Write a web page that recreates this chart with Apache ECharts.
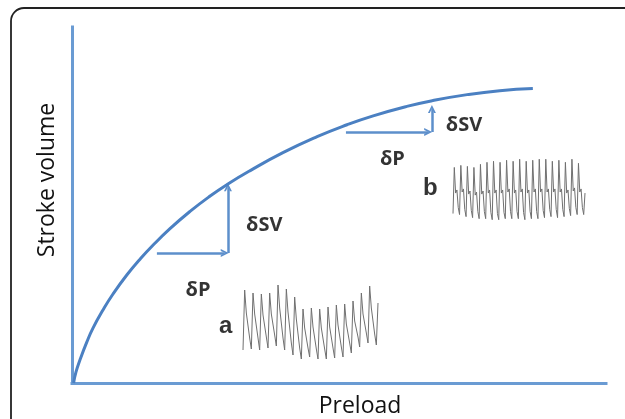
<!DOCTYPE html>
<html>
<head>
<meta charset="utf-8">
<script src="https://cdn.jsdelivr.net/npm/echarts@6/dist/echarts.min.js"></script>
<style>html,body{margin:0;padding:0;background:#fff}#c{width:625px;height:419px}</style>
</head>
<body>
<div id="c"></div>
<script>
// Frank-Starling curve (arbitrary units 0..100)
const preload      = [0.3, 0.75, 1.5, 2.75, 3.93, 5.8, 7.68, 10.3, 12.7, 15.2, 18.35, 22.1, 25.8, 29.2, 33.3, 39.5, 45.9, 51.5, 56.4, 62.7, 67.6, 74.0, 80.1, 86.3];
const strokeVolume = [0,   3.1,  6.5, 11.4, 15.4, 20.5, 25.0, 30.4, 34.7, 38.75, 43.35, 48.2, 52.45, 55.9, 59.6, 64.7, 69.2, 72.55, 75.05, 77.7, 79.35, 81.0, 82.1, 82.7];

// delta arrows (start -> end)
const arrowX0 = [15.9, 29.2, 51.3, 67.4];
const arrowY0 = [36.5, 36.5, 70.5, 70.5];
const arrowX1 = [28.6, 29.2, 66.7, 67.4];
const arrowY1 = [36.5, 55.0, 70.5, 77.0];

// annotation labels
const labelTexts = ['δSV', 'δP', 'δSV', 'δP', 'a', 'b'];
const labelX = [36.0, 23.6, 73.4, 60.0, 28.8, 67.1];
const labelY = [44.4, 26.1, 72.3, 62.8, 16.0, 54.6];

// arterial pressure trace a (large respiratory variation)
const traceA = [
  15, 75, 52, 53, 27,
  16, 72, 51, 52, 27,
  15, 71, 50, 51, 28,
  17, 72, 51, 52, 30,
  19, 80, 57, 58, 27,
  15, 76, 53, 54, 22,
  10, 68, 46, 47, 17,
  6, 56, 37, 38, 17,
  8, 57, 38, 39, 16,
  6, 56, 37, 38, 16,
  6, 58, 38, 39, 17,
  7, 60, 40, 41, 18,
  8, 61, 41, 42, 22,
  12, 64, 44, 45, 28,
  18, 72, 51, 52, 32,
  22, 79, 57, 58, 31,
  20, 62
];

// arterial pressure trace b (small respiratory variation)
const traceB = [
  18, 63, 38, 41, 24,
  17, 65, 39, 42, 22,
  15, 64, 37, 40, 21,
  14, 63, 36, 39, 20,
  13, 66, 37, 40, 20,
  13, 68, 38, 41, 19,
  12, 69, 38, 41, 18,
  12, 68, 38, 41, 19,
  13, 70, 39, 42, 20,
  13, 69, 38, 41, 20,
  13, 71, 39, 42, 19,
  12, 69, 38, 41, 20,
  13, 70, 39, 42, 20,
  13, 71, 39, 42, 21,
  14, 71, 39, 42, 22,
  15, 69, 39, 42, 22,
  14, 70, 39, 42, 22,
  15, 68, 38, 41, 23,
  16, 71, 40, 43, 24,
  17, 67, 39, 42, 24,
  17, 38
];

const curveColor = '#4b80c2';
const axisColor = '#6a9bd3';
const arrowColor = '#5d8fcb';
const chevron = 'path://M0,10 L5,0 L10,10 L7.6,10 L5,4.6 L2.4,10 Z';

const chart = echarts.init(document.getElementById('c'), null, {renderer: 'canvas'});

const hiddenAxis = {axisLine: {show: false}, axisTick: {show: false}, axisLabel: {show: false}, splitLine: {show: false}};
const mainAxisLine = {show: true, onZero: false, lineStyle: {color: axisColor, width: 3, cap: 'square'}};

const option = {
  animation: false,
  backgroundColor: '#ffffff',
  grid: [
    {left: 72, right: 19, top: 27, bottom: 36},
    {left: 243, right: 247, top: 280, bottom: 54},
    {left: 453, right: 40, top: 150, bottom: 187}
  ],
  xAxis: [
    Object.assign({gridIndex: 0, type: 'value', min: 0, max: 100}, hiddenAxis, {axisLine: mainAxisLine}),
    Object.assign({gridIndex: 1, type: 'category', boundaryGap: false, data: traceA.map((_, i) => i)}, hiddenAxis),
    Object.assign({gridIndex: 2, type: 'category', boundaryGap: false, data: traceB.map((_, i) => i)}, hiddenAxis)
  ],
  yAxis: [
    Object.assign({gridIndex: 0, type: 'value', min: 0, max: 100}, hiddenAxis, {axisLine: mainAxisLine}),
    Object.assign({gridIndex: 1, type: 'value', min: 0, max: 85}, hiddenAxis),
    Object.assign({gridIndex: 2, type: 'value', min: 0, max: 80}, hiddenAxis)
  ],
  series: [
    {
      type: 'line', xAxisIndex: 0, yAxisIndex: 0,
      data: preload.map((x, i) => [x, strokeVolume[i]]),
      showSymbol: false, smooth: 0.5,
      lineStyle: {color: curveColor, width: 3}
    },
    {
      type: 'lines', coordinateSystem: 'cartesian2d', xAxisIndex: 0, yAxisIndex: 0,
      symbol: ['none', chevron], symbolSize: [13, 8],
      lineStyle: {color: arrowColor, width: 2.5, opacity: 1, curveness: 0},
      data: arrowX0.map((x, i) => ({coords: [[x, arrowY0[i]], [arrowX1[i], arrowY1[i]]]}))
    },
    {
      type: 'scatter', xAxisIndex: 0, yAxisIndex: 0,
      symbolSize: 1, itemStyle: {color: 'rgba(0,0,0,0)'},
      data: labelTexts.map((t, i) => ({
        value: [labelX[i], labelY[i]],
        label: {
          show: true, position: 'inside', formatter: t, color: '#000',
          fontFamily: t.length > 1 ? 'Open Sans' : 'Liberation Sans',
          fontWeight: 'bold',
          fontSize: t.length > 1 ? 20 : 24
        }
      }))
    },
    {
      type: 'line', xAxisIndex: 1, yAxisIndex: 1, data: traceA,
      showSymbol: false, lineStyle: {color: '#707070', width: 1}
    },
    {
      type: 'line', xAxisIndex: 2, yAxisIndex: 2, data: traceB,
      showSymbol: false, lineStyle: {color: '#707070', width: 1}
    }
  ],
  graphic: [
    {type: 'rect', shape: {x: 11, y: 8, width: 700, height: 500, r: 13}, style: {fill: 'none', stroke: '#222', lineWidth: 1.8}, silent: true},
    {type: 'text', x: 47, y: 180, rotation: Math.PI / 2,
      style: {text: 'Stroke volume', fontFamily: 'Open Sans', fontSize: 23, fill: '#111', align: 'center', verticalAlign: 'middle'}},
    {type: 'text', x: 360, y: 406,
      style: {text: 'Preload', fontFamily: 'Open Sans', fontSize: 23, fill: '#111', align: 'center', verticalAlign: 'middle'}}
  ]
};
chart.setOption(option);
</script>
</body>
</html>
